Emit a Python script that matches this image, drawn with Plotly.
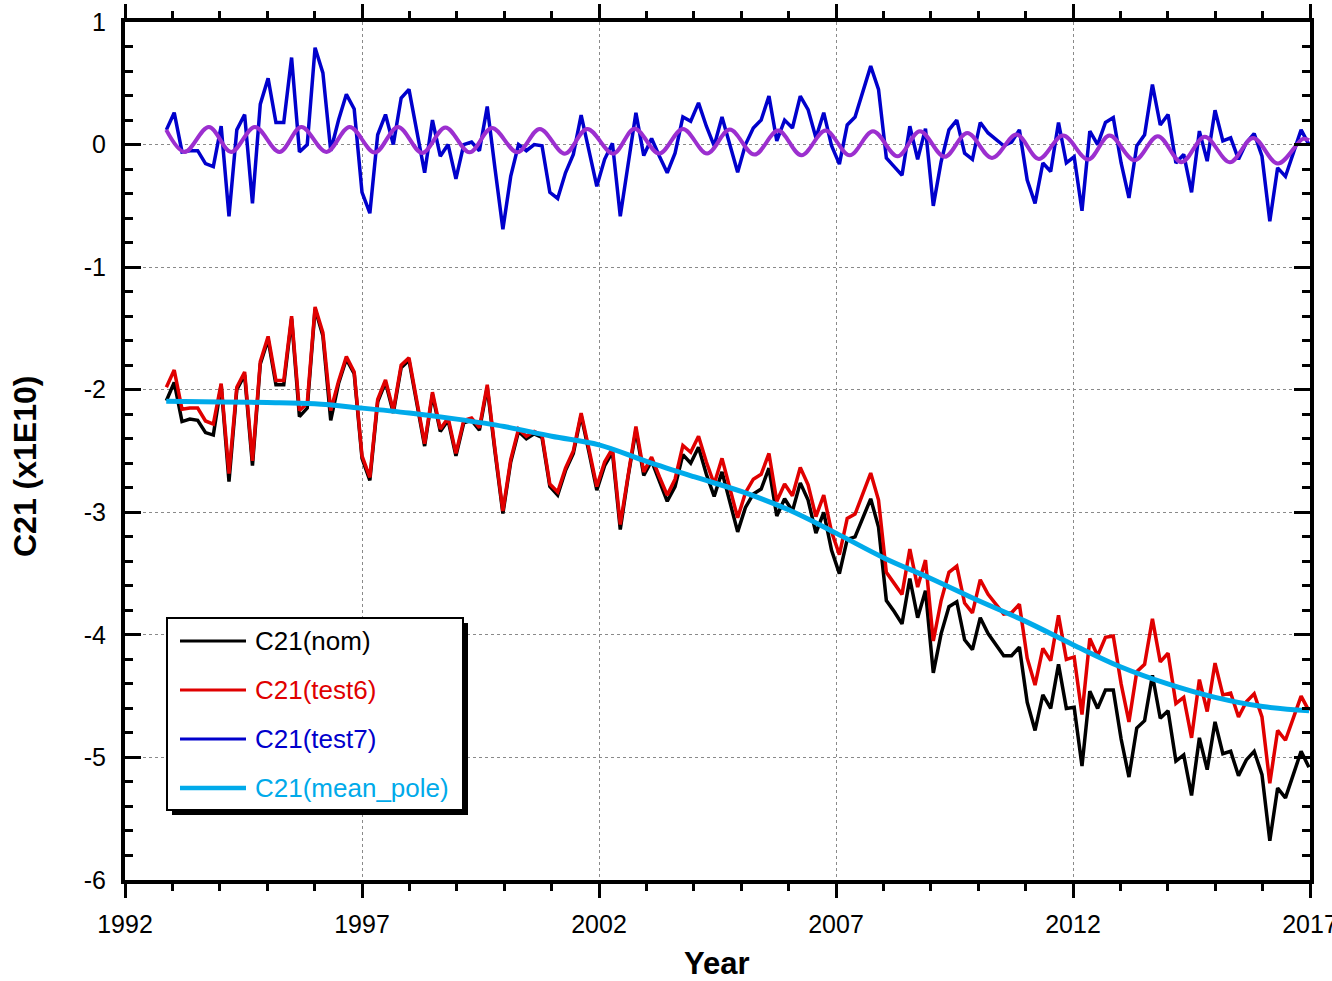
import plotly.graph_objects as go

# ---------------- data ----------------
T0 = 1992.873          # first epoch (decimal year)
DT = 0.1651            # sampling step (years)

test7 = [0.12, 0.26, -0.06, -0.05, -0.05, -0.155, -0.18, 0.15, -0.585, 0.12,
         0.245, -0.48, 0.33, 0.54, 0.18, 0.18, 0.71, -0.06, 0.0, 0.79,
         0.585, -0.05, 0.2, 0.41, 0.29, -0.39, -0.56, 0.08, 0.245, 0.0,
         0.38, 0.45, 0.11, -0.23, 0.2, -0.095, 0.0, -0.28, 0.0, 0.02,
         -0.05, 0.31, -0.2, -0.69, -0.26, 0.0, -0.05, 0.0, -0.01, -0.39,
         -0.44, -0.23, -0.08, 0.24, -0.05, -0.34, -0.12, 0.01, -0.585, -0.15,
         0.26, -0.09, 0.05, -0.095, -0.23, -0.07, 0.225, 0.19, 0.34, 0.15,
         -0.01, 0.225, 0.0, -0.225, 0.0, 0.135, 0.2, 0.395, 0.03, 0.2,
         0.135, 0.395, 0.285, 0.055, 0.26, -0.01, -0.16, 0.16, 0.225, 0.435,
         0.64, 0.45, -0.11, -0.18, -0.25, 0.15, -0.12, 0.13, -0.5, -0.14,
         0.12, 0.2, -0.07, -0.12, 0.18, 0.095, 0.045, -0.01, 0.02, 0.12,
         -0.29, -0.48, -0.15, -0.22, 0.18, -0.15, -0.1, -0.54, 0.11, 0.0,
         0.18, 0.22, -0.15, -0.435, -0.01, 0.08, 0.49, 0.16, 0.245, -0.15,
         -0.08, -0.39, 0.11, -0.135, 0.28, 0.03, 0.055, -0.12, 0.015, 0.09,
         -0.095, -0.625, -0.19, -0.26, -0.07, 0.12, 0.0]

test6 = [-1.98, -1.84, -2.16, -2.15, -2.15, -2.255, -2.28, -1.95, -2.685, -1.98,
         -1.855, -2.58, -1.77, -1.565, -1.925, -1.925, -1.40, -2.17, -2.11, -1.325,
         -1.535, -2.17, -1.93, -1.73, -1.855, -2.54, -2.715, -2.08, -1.92, -2.17,
         -1.80, -1.74, -2.09, -2.44, -2.02, -2.32, -2.23, -2.52, -2.25, -2.23,
         -2.31, -1.96, -2.49, -2.99, -2.57, -2.32, -2.38, -2.34, -2.37, -2.77,
         -2.835, -2.64, -2.50, -2.19, -2.485, -2.79, -2.59, -2.48, -3.10, -2.68,
         -2.30, -2.67, -2.55, -2.71, -2.86, -2.73, -2.455, -2.51, -2.38, -2.59,
         -2.77, -2.56, -2.80, -3.045, -2.84, -2.73, -2.69, -2.52, -2.91, -2.77,
         -2.865, -2.635, -2.775, -3.035, -2.86, -3.16, -3.345, -3.05, -3.015, -2.84,
         -2.68, -2.90, -3.49, -3.58, -3.67, -3.30, -3.61, -3.39, -4.05, -3.72,
         -3.49, -3.44, -3.74, -3.82, -3.55, -3.67, -3.75, -3.83, -3.82, -3.75,
         -4.19, -4.41, -4.11, -4.21, -3.84, -4.20, -4.18, -4.65, -4.03, -4.17,
         -4.02, -4.01, -4.40, -4.71, -4.30, -4.24, -3.87, -4.22, -4.15, -4.56,
         -4.51, -4.84, -4.365, -4.625, -4.23, -4.49, -4.475, -4.67, -4.545, -4.48,
         -4.67, -5.21, -4.78, -4.86, -4.68, -4.50, -4.62]

nom = [-2.09, -1.94, -2.26, -2.24, -2.25, -2.35, -2.37, -1.96, -2.75, -2.00,
       -1.88, -2.62, -1.79, -1.59, -1.96, -1.96, -1.42, -2.22, -2.15, -1.34,
       -1.56, -2.25, -1.95, -1.75, -1.87, -2.56, -2.74, -2.10, -1.94, -2.19,
       -1.82, -1.76, -2.11, -2.46, -2.04, -2.34, -2.25, -2.54, -2.27, -2.25,
       -2.33, -1.98, -2.51, -3.01, -2.59, -2.34, -2.40, -2.36, -2.39, -2.79,
       -2.86, -2.66, -2.52, -2.21, -2.51, -2.82, -2.62, -2.51, -3.14, -2.71,
       -2.33, -2.70, -2.58, -2.75, -2.91, -2.79, -2.53, -2.60, -2.47, -2.69,
       -2.87, -2.67, -2.91, -3.16, -2.96, -2.85, -2.81, -2.64, -3.03, -2.89,
       -2.99, -2.76, -2.90, -3.17, -3.00, -3.31, -3.50, -3.22, -3.20, -3.04,
       -2.89, -3.12, -3.72, -3.81, -3.91, -3.54, -3.86, -3.64, -4.31, -3.99,
       -3.77, -3.73, -4.04, -4.12, -3.86, -3.99, -4.08, -4.17, -4.17, -4.10,
       -4.55, -4.78, -4.49, -4.60, -4.24, -4.60, -4.59, -5.07, -4.46, -4.60,
       -4.45, -4.45, -4.85, -5.16, -4.76, -4.70, -4.33, -4.68, -4.62, -5.03,
       -4.98, -5.31, -4.84, -5.10, -4.71, -4.97, -4.95, -5.15, -5.02, -4.95,
       -5.14, -5.68, -5.25, -5.33, -5.14, -4.95, -5.08]

epochs = [round(T0 + DT * i, 4) for i in range(len(test7))]

pole_years = [1992.87, 1994, 1995, 1996, 1997, 1998, 1999, 2000, 2001, 2002,
              2003, 2004, 2005, 2006, 2007, 2008, 2009, 2010, 2011, 2012,
              2013, 2014, 2015, 2016, 2016.98]
pole_vals = [-2.095, -2.10, -2.105, -2.115, -2.15, -2.19, -2.24, -2.30, -2.38, -2.45,
             -2.585, -2.71, -2.83, -2.98, -3.17, -3.37, -3.54, -3.72, -3.89, -4.08,
             -4.26, -4.40, -4.51, -4.585, -4.62]

annual_years = [1992.87, 1993.26, 1993.77, 1994.24, 1994.74, 1995.26, 1995.72, 1996.25,
                1996.74, 1997.27, 1997.76, 1998.27, 1998.76, 1999.27, 1999.74, 2000.28,
                2000.75, 2001.28, 2001.75, 2002.30, 2002.75, 2003.27, 2003.77, 2004.28,
                2004.76, 2005.28, 2005.78, 2006.27, 2006.78, 2007.29, 2007.78, 2008.30,
                2008.77, 2009.29, 2009.77, 2010.29, 2010.81, 2011.28, 2011.79, 2012.32,
                2012.77, 2013.30, 2013.79, 2014.29, 2014.78, 2015.31, 2015.80, 2016.32,
                2016.85, 2016.98]
annual_vals = [0.12, -0.06, 0.144, -0.06, 0.144, -0.06, 0.144, -0.06,
               0.144, -0.065, 0.144, -0.068, 0.14, -0.063, 0.136, -0.063,
               0.128, -0.074, 0.128, -0.074, 0.13, -0.073, 0.128, -0.073,
               0.122, -0.082, 0.114, -0.087, 0.114, -0.087, 0.109, -0.095,
               0.109, -0.10, 0.095, -0.109, 0.082, -0.117, 0.073, -0.122,
               0.073, -0.128, 0.068, -0.144, 0.063, -0.144, 0.054, -0.155,
               0.046, 0.035]

series_names = ["C21(nom)", "C21(test6)", "C21(test7)", "C21(mean_pole)"]
x_tick_vals = [1992, 1997, 2002, 2007, 2012, 2017]
x_tick_text = ["1992", "1997", "2002", "2007", "2012", "2017"]
y_tick_vals = [1, 0, -1, -2, -3, -4, -5, -6]
y_tick_text = ["1", "0", "-1", "-2", "-3", "-4", "-5", "-6"]

# ---------------- styling ----------------
C_BLACK = "#000000"
C_RED = "#e00000"
C_BLUE = "#0000cc"
C_CYAN = "#00aaea"
C_PURPLE = "#9c2fcf"
FONT = "Liberation Sans, Arial, Helvetica, sans-serif"

W, H = 1332, 981
L, R, T, B = 125, 1310, 22, 880   # plot area in pixels

fig = go.Figure()
fig.add_trace(go.Scatter(x=epochs, y=nom, mode="lines", name=series_names[0],
                         line=dict(color=C_BLACK, width=3.5)))
fig.add_trace(go.Scatter(x=epochs, y=test6, mode="lines", name=series_names[1],
                         line=dict(color=C_RED, width=3.5)))
fig.add_trace(go.Scatter(x=epochs, y=test7, mode="lines", name=series_names[2],
                         line=dict(color=C_BLUE, width=3.5)))
fig.add_trace(go.Scatter(x=pole_years, y=pole_vals, mode="lines", name=series_names[3],
                         line=dict(color=C_CYAN, width=5, shape="spline", smoothing=1.0)))
fig.add_trace(go.Scatter(x=annual_years, y=annual_vals, mode="lines", name="annual",
                         line=dict(color=C_PURPLE, width=4, shape="spline", smoothing=1.0)))

fig.update_layout(
    width=W, height=H,
    margin=dict(l=L, r=W - R, t=T, b=H - B, pad=0, autoexpand=False),
    paper_bgcolor="white", plot_bgcolor="white",
    showlegend=False,
    font=dict(family=FONT, size=25, color="black"),
)

fig.update_xaxes(
    range=[1992, 2017], showline=True, linewidth=4, linecolor="black", mirror="allticks",
    tickmode="array", tickvals=x_tick_vals, ticktext=x_tick_text,
    ticks="outside", ticklen=14, tickwidth=3, tickcolor="black",
    ticklabelstandoff=5, ticklabeloverflow="allow", automargin=False,
    showgrid=True, gridcolor="#8a8a8a", gridwidth=1, griddash="dot",
    zeroline=False,
    minor=dict(ticks="outside", ticklen=7, tickwidth=3, tickcolor="black", dtick=1,
               tick0=1992, showgrid=False),
    tickfont=dict(size=25, family=FONT),
)
fig.update_yaxes(
    range=[-6, 1], showline=True, linewidth=4, linecolor="black", mirror="allticks",
    tickmode="array", tickvals=y_tick_vals, ticktext=y_tick_text,
    ticks="inside", ticklen=16, tickwidth=3, tickcolor="black",
    ticklabelstandoff=10, ticklabeloverflow="allow", automargin=False,
    showgrid=True, gridcolor="#8a8a8a", gridwidth=1, griddash="dot",
    zeroline=False,
    minor=dict(ticks="inside", ticklen=8, tickwidth=3, tickcolor="black", dtick=0.2,
               tick0=0, showgrid=False),
    tickfont=dict(size=25, family=FONT),
)


def px(xp):
    return (xp - L) / (R - L)


def py(yp):
    return (B - yp) / (B - T)


annotations = [
    dict(text="<b>Year</b>", x=px(717), y=py(963), xref="paper", yref="paper",
         showarrow=False, font=dict(size=31, family=FONT), xanchor="center", yanchor="middle"),
    dict(text="<b>C21 (x1E10)</b>", x=px(25), y=py(467), xref="paper", yref="paper",
         showarrow=False, textangle=-90, font=dict(size=32, family=FONT),
         xanchor="center", yanchor="middle"),
]

# legend box (drawn as decoration)
shapes = [
    dict(type="rect", xref="paper", yref="paper", x0=px(172), x1=px(468), y0=py(815), y1=py(623),
         fillcolor="black", line=dict(width=0), layer="above"),
    dict(type="rect", xref="paper", yref="paper", x0=px(167), x1=px(463), y0=py(810), y1=py(618),
         fillcolor="white", line=dict(color="black", width=2), layer="above"),
]
leg_colors = [C_BLACK, C_RED, C_BLUE, C_CYAN]
leg_widths = [3, 3, 3, 4.5]
for k, (nm, col, lw) in enumerate(zip(series_names, leg_colors, leg_widths)):
    yy = 641 + 49 * k
    shapes.append(dict(type="line", xref="paper", yref="paper", x0=px(180), x1=px(246),
                       y0=py(yy), y1=py(yy), line=dict(color=col, width=lw), layer="above"))
    annotations.append(dict(text=nm, x=px(253), y=py(yy), xref="paper", yref="paper",
                            showarrow=False, xanchor="left", yanchor="middle",
                            font=dict(size=26, family=FONT, color=col)))

fig.update_layout(shapes=shapes, annotations=annotations)

fig.write_html("out.html")
